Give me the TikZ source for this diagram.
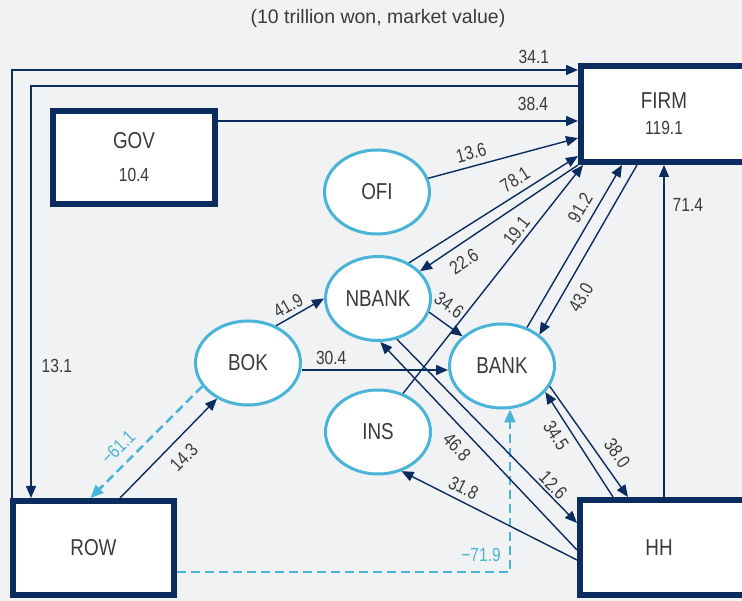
\documentclass[tikz,border=0pt]{standalone}
\usepackage{fontspec}
\setmainfont{Liberation Sans}[FakeStretch=0.82]
\newfontfamily\titlefont{Liberation Sans}
\usetikzlibrary{arrows.meta,shapes.geometric}
\definecolor{bgcol}{HTML}{F0F2F4}
\definecolor{navy}{HTML}{0B2C5F}
\definecolor{skyline}{HTML}{4AB3D8}
\definecolor{inkgray}{HTML}{3B3B3B}
\newcommand\namesz{\fontsize{23}{27}\selectfont}
\newcommand\valsz{\fontsize{19}{23}\selectfont}
\begin{document}
\begin{tikzpicture}[x=1pt,y=-1pt,
    sector/.style={rectangle,draw=navy,line width=6pt,fill=white,inner sep=0pt,outer sep=3pt,
      text=inkgray,font=\namesz,align=center},
    inst/.style={ellipse,draw=skyline,line width=3pt,fill=white,inner sep=0pt,outer sep=1.5pt,
      minimum width=105pt,minimum height=84pt,text=inkgray,font=\namesz},
    flow/.style={draw=navy,line width=1.4pt,-{Triangle[length=12pt,width=10pt]}},
    negflow/.style={draw=skyline,line width=2.5pt,dash pattern=on 9pt off 5pt,
      -{Triangle[length=13pt,width=11pt]}},
    amt/.style={text=inkgray,font=\valsz,inner sep=4pt},
    negamt/.style={amt,text=skyline}]
  \fill[bgcol] (0,0) rectangle (742,601);
  \useasboundingbox (0,0) rectangle (742,601);
  \node[text=inkgray,font=\titlefont\fontsize{19.5}{23}\selectfont] (title) at (378,18)
    {(10 trillion won, market value)};

  % sectors
  \node[sector,minimum width=166pt,minimum height=96pt] (FIRM) at (664,114)
    {FIRM\\[-1pt]{\valsz 119.1}};
  \node[sector,minimum width=162pt,minimum height=93pt] (GOV) at (134,157.5)
    {GOV\\[6pt]{\valsz 10.4}};
  \node[sector,minimum width=161pt,minimum height=94pt] (ROW) at (93.5,548) {ROW};
  \node[sector,minimum width=168pt,minimum height=95pt] (HH) at (664,547.5) {\hspace*{-10pt}HH};

  % institutions
  \node[inst] (OFI) at (377,192) {OFI};
  \node[inst] (NBANK) at (378,298.5) {NBANK};
  \node[inst] (BANK) at (502,366) {BANK};
  \node[inst] (BOK) at (248,363) {BOK};
  \node[inst] (INS) at (378,432) {INS};

  % flows into and out of FIRM
  \draw[flow] ([xshift=2pt]ROW.north west) |- ([yshift=44pt]FIRM.west)
    node[amt,pos=0.961,above=2pt] {34.1};
  \draw[flow] ([yshift=28pt]FIRM.west) -| ([xshift=21pt]ROW.north west)
    node[amt,pos=0.84,right=6pt] {13.1};
  \draw[flow] ([yshift=36.5pt]GOV.east) -- ([yshift=-7pt]FIRM.west)
    node[amt,pos=0.875,above=6pt] {38.4};
  \draw[flow] (OFI.15) -- ([yshift=-24pt]FIRM.west)
    node[amt,pos=0.31,sloped,above=2pt] {13.6};
  \draw[flow] (NBANK.49) -- ([yshift=-42pt]FIRM.west)
    node[amt,pos=0.67,sloped,above=2pt] {78.1};
  \draw[flow] (FIRM.south west) -- (NBANK.33)
    node[amt,pos=0.78,sloped,below=5pt] {22.6};
  \draw[flow] (INS.57) -- ([xshift=-81pt]FIRM.south)
    node[amt,pos=0.68,sloped,above=0pt] {19.1};
  \draw[flow] (BANK.57) -- ([xshift=-42pt]FIRM.south)
    node[amt,pos=0.69,sloped,above=3pt] {91.2};
  \draw[flow] ([xshift=-27pt]FIRM.south) -- (BANK.40)
    node[amt,pos=0.73,sloped,below=6pt] {43.0};
  \draw[flow] (HH.north) -- (FIRM.south)
    node[amt,pos=0.88,right=4pt] {71.4};

  % central bank and financial institutions
  \draw[flow] (BOK.53) -- (NBANK.west)
    node[amt,pos=0.37,sloped,above=0pt] {41.9};
  \draw[flow] ([yshift=-7pt]BOK.east) -- ([yshift=-4pt]BANK.west)
    node[amt,pos=0.2,above=1pt] {30.4};
  \draw[flow] (NBANK.-15) -- (BANK.143)
    node[amt,pos=0.29,sloped,above=6pt] {34.6};
  \draw[flow] ([xshift=26.5pt]ROW.north) -- (BOK.229)
    node[amt,pos=0.53,sloped,below=6pt] {14.3};
  \draw[negflow] (BOK.207) -- ([xshift=-3pt]ROW.north)
    node[negamt,pos=0.65,sloped,above=4.5pt] {−61.1};
  \draw[negflow] ([yshift=-24pt]ROW.east) -| ([xshift=8pt]BANK.south)
    node[negamt,pos=0.5,anchor=south east,inner sep=0pt,xshift=-8pt,yshift=9pt] {−71.9};

  % households
  \draw[flow] ([yshift=-2.5pt]HH.west) -- (NBANK.273)
    node[amt,pos=0.55,sloped,below=5pt] {46.8};
  \draw[flow] (NBANK.295) -- ([yshift=24.5pt]HH.west)
    node[amt,pos=0.83,sloped,above=-2pt] {12.6};
  \draw[flow] ([yshift=-12.5pt]HH.west) -- (INS.301)
    node[amt,pos=0.68,sloped,above=1.5pt] {31.8};
  \draw[flow] ([xshift=-51pt]HH.north) -- (BANK.329)
    node[amt,pos=0.66,sloped,below=3pt] {34.5};
  \draw[flow] (BANK.337) -- ([xshift=-36pt]HH.north)
    node[amt,pos=0.69,sloped,above=5pt] {38.0};
\end{tikzpicture}
\end{document}
